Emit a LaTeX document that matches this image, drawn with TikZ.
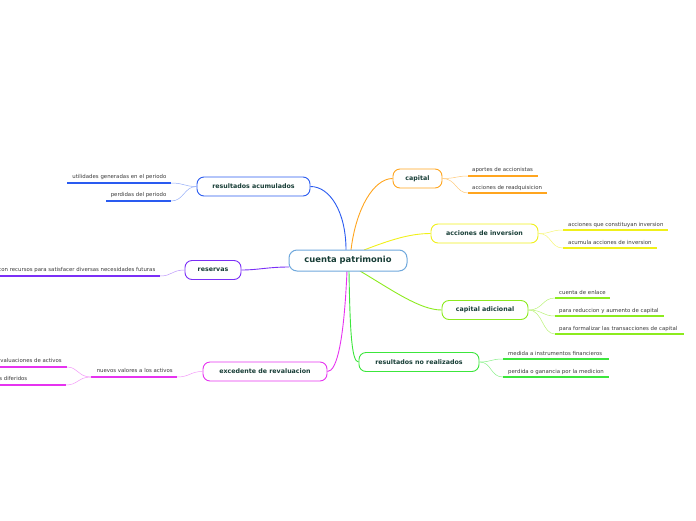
\documentclass[tikz,border=0pt]{standalone}
\usepackage{fontspec}
\setmainfont{DejaVu Sans}
\definecolor{cblue}{HTML}{2A5BF0}
\definecolor{cpurple}{HTML}{7B2FF7}
\definecolor{cmag}{HTML}{E633F0}
\definecolor{corange}{HTML}{FFA51F}
\definecolor{cyellow}{HTML}{F0F01A}
\definecolor{clgreen}{HTML}{8CEB1E}
\definecolor{cgreen}{HTML}{3CE63C}
\definecolor{ccenter}{HTML}{6FA8DC}
\definecolor{ntext}{HTML}{173D36}
\definecolor{stext}{HTML}{3A3A3A}
\tikzset{
  mainbox/.style={draw, line width=0.9pt, rounded corners=7pt, fill=white, text=ntext,
    font=\bfseries\fontsize{6.3}{8}\selectfont, inner sep=0pt, minimum height=19pt},
  centerbox/.style={draw=ccenter, line width=1pt, rounded corners=8pt, fill=white, text=ntext,
    font=\bfseries\fontsize{8.4}{10}\selectfont, inner sep=0pt, minimum height=21pt, minimum width=118pt},
  subtxt/.style={text=stext, font=\fontsize{5.4}{6.5}\selectfont, inner sep=0pt},
  subline/.style={line width=1.5pt},
  mainconn/.style={line width=0.9pt},
  subconn/.style={line width=0.5pt},
}
\begin{document}
\begin{tikzpicture}[x=1pt,y=-1pt]
\useasboundingbox (0,0) rectangle (696,520);

\coordinate (o1) at (346,250);
\coordinate (o2) at (351,250);
\coordinate (o3) at (364,250);
\coordinate (o4) at (360,271);
\coordinate (o5) at (349,271);
\coordinate (o6) at (347,271);
\coordinate (o7) at (289,267);

\node[mainbox, draw=cblue, minimum width=113pt] (racum) at (253.5,186.5) {resultados acumulados};
\node[mainbox, draw=cpurple, minimum width=56pt] (reserv) at (213,270) {reservas};
\node[mainbox, draw=cmag, minimum width=124pt] (exced) at (265,371.5) {excedente de revaluacion};
\node[mainbox, draw=corange, minimum width=49pt] (capital) at (417.5,178.5) {capital};
\node[mainbox, draw=cyellow, minimum width=107pt] (accinv) at (484.5,233.5) {acciones de inversion};
\node[mainbox, draw=clgreen, minimum width=86pt] (capad) at (485,310) {capital adicional};
\node[mainbox, draw=cgreen, minimum width=120pt] (resnr) at (419,362) {resultados no realizados};

\draw[mainconn, cblue] (o1) .. controls (346,212) and (330,186.5) .. (racum.east);
\draw[mainconn, corange] (o2) .. controls (356,208) and (374,178.5) .. (capital.west);
\draw[mainconn, cyellow] (o3) .. controls (390,240) and (410,233.5) .. (accinv.west);
\draw[mainconn, clgreen] (o4) .. controls (392,290) and (420,310) .. (capad.west);
\draw[mainconn, cgreen] (o5) .. controls (350,335) and (352,362) .. (resnr.west);
\draw[mainconn, cmag] (o6) .. controls (344,340) and (337,371.5) .. (exced.east);
\draw[mainconn, cpurple] (o7) .. controls (268,267) and (258,270) .. (reserv.east);

\node[centerbox] (cp) at (348,260.5) {cuenta patrimonio};

% ---- capital
\coordinate (ca1) at (468,176); \coordinate (cb1) at (538,176);
\coordinate (ca2) at (468,193); \coordinate (cb2) at (547,193);
\draw[subconn, corange!60] (capital.east) .. controls (456,178.5) and (456,176) .. (ca1);
\draw[subconn, corange!60] (capital.east) .. controls (456,178.5) and (456,193) .. (ca2);
\draw[subline, corange] (ca1) -- (cb1);
\draw[subline, corange] (ca2) -- (cb2);
\node[subtxt, anchor=base west] (t11) at (472,171) {aportes de accionistas};
\node[subtxt, anchor=base west] (t12) at (472,189) {acciones de readquisicion};

% ---- acciones de inversion
\coordinate (ia1) at (563,230); \coordinate (ib1) at (668,230);
\coordinate (ia2) at (563,248); \coordinate (ib2) at (657,248);
\draw[subconn, cyellow!60] (accinv.east) .. controls (552,233.5) and (550,230) .. (ia1);
\draw[subconn, cyellow!60] (accinv.east) .. controls (552,233.5) and (550,248) .. (ia2);
\draw[subline, cyellow] (ia1) -- (ib1);
\draw[subline, cyellow] (ia2) -- (ib2);
\node[subtxt, anchor=base west] (t21) at (568,226) {acciones que constituyan inversion};
\node[subtxt, anchor=base west] (t22) at (568,244) {acumula acciones de inversion};

% ---- capital adicional
\coordinate (da1) at (555,298); \coordinate (db1) at (610,298);
\coordinate (da2) at (555,316); \coordinate (db2) at (664,316);
\coordinate (da3) at (555,334); \coordinate (db3) at (684,334);
\draw[subconn, clgreen!60] (capad.east) .. controls (543,310) and (542,298) .. (da1);
\draw[subconn, clgreen!60] (capad.east) .. controls (543,310) and (542,316) .. (da2);
\draw[subconn, clgreen!60] (capad.east) .. controls (543,310) and (542,334) .. (da3);
\draw[subline, clgreen] (da1) -- (db1);
\draw[subline, clgreen] (da2) -- (db2);
\draw[subline, clgreen] (da3) -- (db3);
\node[subtxt, anchor=base west] (t31) at (559,294) {cuenta de enlace};
\node[subtxt, anchor=base west] (t32) at (559,312) {para reduccion y aumento de capital};
\node[subtxt, anchor=base west] (t33) at (559,330) {para formalizar las transacciones de capital};

% ---- resultados no realizados
\coordinate (na1) at (503,359); \coordinate (nb1) at (609,359);
\coordinate (na2) at (503,377); \coordinate (nb2) at (609,377);
\draw[subconn, cgreen!60] (resnr.east) .. controls (492,362) and (490,359) .. (na1);
\draw[subconn, cgreen!60] (resnr.east) .. controls (492,362) and (490,377) .. (na2);
\draw[subline, cgreen] (na1) -- (nb1);
\draw[subline, cgreen] (na2) -- (nb2);
\node[subtxt, anchor=base west] (t41) at (508,355) {medida a instrumentos financieros};
\node[subtxt, anchor=base west] (t42) at (508,373) {perdida o ganancia por la medicion};

% ---- resultados acumulados
\coordinate (ra1) at (67,183); \coordinate (rb1) at (171,183);
\coordinate (ra2) at (106,201); \coordinate (rb2) at (171,201);
\draw[subconn, cblue!50] (racum.west) .. controls (184,186.5) and (184,183) .. (rb1);
\draw[subconn, cblue!50] (racum.west) .. controls (184,186.5) and (184,201) .. (rb2);
\draw[subline, cblue] (ra1) -- (rb1);
\draw[subline, cblue] (ra2) -- (rb2);
\node[subtxt, anchor=base east] (t51) at (166.5,178.5) {utilidades generadas en el periodo};
\node[subtxt, anchor=base east] (t52) at (166.5,196.5) {perdidas del periodo};

% ---- reservas
\coordinate (sa1) at (0,276); \coordinate (sb1) at (160,276);
\draw[subconn, cpurple!50] (reserv.west) .. controls (172,270) and (172,276) .. (sb1);
\draw[subline, cpurple] (sa1) -- (sb1);
\node[subtxt, anchor=base east] (t61) at (155.5,271.5) {con recursos para satisfacer diversas necesidades futuras};

% ---- excedente de revaluacion
\coordinate (ea1) at (91,377); \coordinate (eb1) at (177,377);
\draw[subconn, cmag!50] (exced.west) .. controls (190,371.5) and (190,377) .. (eb1);
\draw[subline, cmag] (ea1) -- (eb1);
\node[subtxt, anchor=base east] (t71) at (173,372.5) {nuevos valores a los activos};
\coordinate (fa1) at (-5,367); \coordinate (fb1) at (67,367);
\coordinate (fa2) at (-5,385); \coordinate (fb2) at (66,385);
\draw[subconn, cmag!50] (ea1) .. controls (78,377) and (78,367) .. (fb1);
\draw[subconn, cmag!50] (ea1) .. controls (78,377) and (78,385) .. (fb2);
\draw[subline, cmag] (fa1) -- (fb1);
\draw[subline, cmag] (fa2) -- (fb2);
\node[subtxt, anchor=base east] (t72) at (62,362.5) {revaluaciones de activos};
\node[subtxt, anchor=base east] (t73) at (27.5,380.5) {impuestos diferidos};
\end{tikzpicture}
\end{document}
